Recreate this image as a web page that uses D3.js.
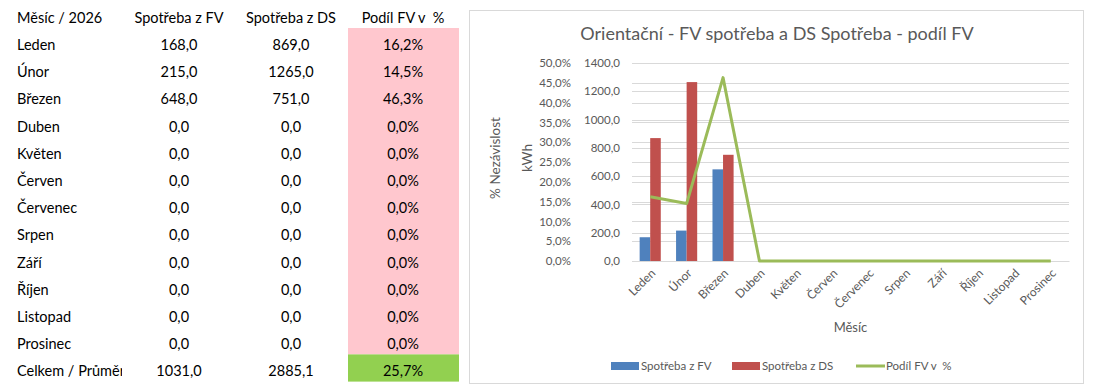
<!DOCTYPE html>
<html>
<head>
<meta charset="utf-8">
<script src="https://cdn.jsdelivr.net/npm/d3@7"></script>
<style>
 body { margin: 0; background: #fff; }
 svg text { font-family: Lato, "Open Sans", sans-serif; white-space: pre; }
</style>
</head>
<body>
<div id="chart"></div>
<script>
// data
var months = ["Leden", "Únor", "Březen", "Duben", "Květen", "Červen", "Červenec", "Srpen", "Září", "Říjen", "Listopad", "Prosinec"];
var spotrebaFV = [168.0, 215.0, 648.0, 0, 0, 0, 0, 0, 0, 0, 0, 0];
var spotrebaDS = [869.0, 1265.0, 751.0, 0, 0, 0, 0, 0, 0, 0, 0, 0];
var podilFV = [16.2, 14.5, 46.3, 0, 0, 0, 0, 0, 0, 0, 0, 0];
var totalLabel = "Celkem / Průměr";
var totals = [1031.0, 2885.1, 25.7];
var tableHeaders = ["Měsíc / 2026", "Spotřeba z FV", "Spotřeba z DS", "Podíl FV v  %"];
var seriesNames = ["Spotřeba z FV", "Spotřeba z DS", "Podíl FV v  %"];
var kwhTicks = [0, 200, 400, 600, 800, 1000, 1200, 1400];
var pctTicks = [0, 5, 10, 15, 20, 25, 30, 35, 40, 45, 50];

var locale = d3.formatLocale({decimal: ",", thousands: "", grouping: [3], currency: ["", ""]});
var f1 = locale.format(".1f");
var fPct = function(d) { return f1(d) + "%"; };

var svg = d3.select("#chart").append("svg")
  .attr("width", 1095)
  .attr("height", 391);

// ---------- table ----------
var rowTop = 28, rowH = 27.2;
var colX = [17, 179, 291, 403];
var table = svg.append("g");

table.append("rect")
  .attr("x", 348).attr("y", rowTop)
  .attr("width", 111).attr("height", rowH * 12)
  .attr("fill", "#FFC7CE");
table.append("rect")
  .attr("x", 348).attr("y", rowTop + rowH * 12)
  .attr("width", 111).attr("height", rowH)
  .attr("fill", "#92D050");

table.selectAll(".hdr")
  .data(tableHeaders)
  .enter().append("text")
  .attr("x", function(d, i) { return colX[i]; })
  .attr("y", 23)
  .attr("text-anchor", function(d, i) { return i == 0 ? "start" : "middle"; })
  .style("font-size", "14.5px")
  .attr("fill", "#000")
  .text(function(d) { return d; });

var rows = months.map(function(m, i) {
  return [m, f1(spotrebaFV[i]), f1(spotrebaDS[i]), fPct(podilFV[i])];
});
rows.push([totalLabel, f1(totals[0]), f1(totals[1]), fPct(totals[2])]);

svg.append("clipPath").attr("id", "c0")
  .append("rect").attr("x", 0).attr("y", 0).attr("width", 122).attr("height", 391);

rows.forEach(function(r, i) {
  var y = rowTop + rowH * i + 22;
  r.forEach(function(v, j) {
    table.append("text")
      .attr("x", colX[j])
      .attr("y", y)
      .attr("text-anchor", j == 0 ? "start" : "middle")
      .attr("clip-path", j == 0 ? "url(#c0)" : null)
      .style("font-size", "14.5px")
      .attr("fill", "#000")
      .text(v);
  });
});

// ---------- chart ----------
svg.append("rect")
  .attr("x", 469.5).attr("y", 10.5)
  .attr("width", 614).attr("height", 373)
  .attr("fill", "#fff")
  .attr("stroke", "#D9D9D9");

var plot = {left: 632, right: 1069, top: 63, bottom: 261};

var x = d3.scaleBand().domain(months)
  .range([plot.left, plot.right])
  .paddingInner(0.42).paddingOuter(0.21);
var xSub = d3.scaleBand().domain([0, 1]).range([0, x.bandwidth()]);
var yK = d3.scaleLinear().domain([0, 1400]).range([plot.bottom, plot.top]);
var yP = d3.scaleLinear().domain([0, 50]).range([plot.bottom, plot.top]);

// gridlines for both axes
svg.append("g").selectAll("line")
  .data(pctTicks)
  .enter().append("line")
  .attr("x1", plot.left).attr("x2", plot.right)
  .attr("y1", function(d) { return Math.round(yP(d)) + 0.5; })
  .attr("y2", function(d) { return Math.round(yP(d)) + 0.5; })
  .attr("stroke", "#D9D9D9");
svg.append("g").selectAll("line")
  .data(kwhTicks)
  .enter().append("line")
  .attr("x1", plot.left).attr("x2", plot.right)
  .attr("y1", function(d) { return Math.round(yK(d)) + 0.5; })
  .attr("y2", function(d) { return Math.round(yK(d)) + 0.5; })
  .attr("stroke", "#D9D9D9");

// title
svg.append("text")
  .attr("x", 777).attr("y", 40)
  .attr("text-anchor", "middle")
  .style("font-size", "18px")
  .attr("fill", "#595959")
  .text("Orientační - FV spotřeba a DS Spotřeba - podíl FV");

// left axes
var axP = svg.append("g")
  .attr("transform", "translate(571,0)")
  .call(d3.axisLeft(yP).tickValues(pctTicks).tickFormat(fPct).tickSize(0).tickPadding(0));
var axK = svg.append("g")
  .attr("transform", "translate(620,0)")
  .call(d3.axisLeft(yK).tickValues(kwhTicks).tickFormat(f1).tickSize(0).tickPadding(0));
[axP, axK].forEach(function(a) {
  a.select(".domain").remove();
  a.selectAll("text")
    .attr("fill", "#595959")
    .style("font-size", "11.5px")
    .style("font-family", "Lato, sans-serif");
});

svg.append("text")
  .attr("transform", "translate(500,158) rotate(-90)")
  .attr("text-anchor", "middle")
  .style("font-size", "13.5px")
  .attr("fill", "#595959")
  .text("% Nezávislost");
svg.append("text")
  .attr("transform", "translate(532,158) rotate(-90)")
  .attr("text-anchor", "middle")
  .style("font-size", "13.5px")
  .attr("fill", "#595959")
  .text("kWh");

// bars
var colors = ["#4F81BD", "#C0504D", "#9BBB59"];
var bars = svg.append("g");
months.forEach(function(m, i) {
  [spotrebaFV[i], spotrebaDS[i]].forEach(function(v, s) {
    bars.append("rect")
      .attr("x", x(m) + xSub(s))
      .attr("y", yK(v))
      .attr("width", xSub.bandwidth())
      .attr("height", plot.bottom - yK(v))
      .attr("fill", colors[s]);
  });
});

// x axis
var axX = svg.append("g")
  .attr("transform", "translate(0," + plot.bottom + ")")
  .call(d3.axisBottom(x).tickSize(0).tickPadding(0));
axX.select(".domain").attr("stroke", "#D9D9D9");
axX.selectAll("text")
  .attr("fill", "#595959")
  .style("font-size", "12px")
  .style("font-family", "Lato, sans-serif")
  .attr("text-anchor", "end")
  .attr("transform", "translate(3,10) rotate(-45)")
  .attr("dy", "0.35em");

svg.append("text")
  .attr("x", (plot.left + plot.right) / 2).attr("y", 332)
  .attr("text-anchor", "middle")
  .style("font-size", "13px")
  .attr("fill", "#595959")
  .text("Měsíc");

// line
var line = d3.line()
  .x(function(d, i) { return x(months[i]) + x.bandwidth() / 2; })
  .y(function(d) { return yP(d); });
svg.append("path")
  .datum(podilFV)
  .attr("d", line)
  .attr("fill", "none")
  .attr("stroke", colors[2])
  .attr("stroke-width", 3)
  .attr("stroke-linejoin", "round");

// legend
var legX = [611, 732, 856];
var leg = svg.append("g");
seriesNames.forEach(function(n, i) {
  if (i < 2) {
    leg.append("rect")
      .attr("x", legX[i]).attr("y", 362)
      .attr("width", 28).attr("height", 8)
      .attr("fill", colors[i]);
  } else {
    leg.append("line")
      .attr("x1", legX[i]).attr("x2", legX[i] + 29)
      .attr("y1", 366).attr("y2", 366)
      .attr("stroke", colors[i]).attr("stroke-width", 3);
  }
  leg.append("text")
    .attr("x", legX[i] + 30).attr("y", 370)
    .style("font-size", "11.5px")
    .attr("fill", "#595959")
    .text(n);
});
</script>
</body>
</html>
